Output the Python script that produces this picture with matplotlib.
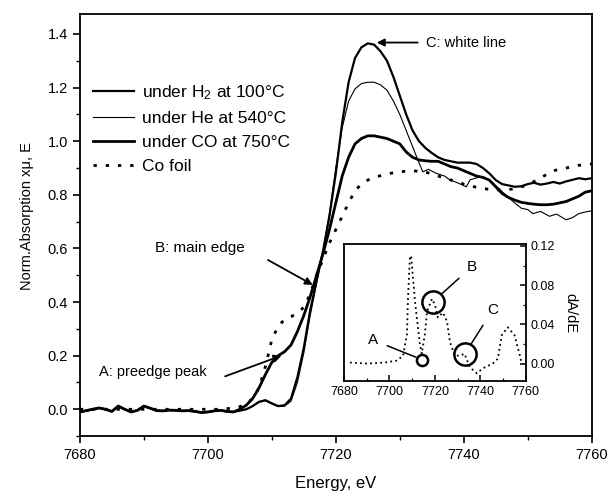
import matplotlib
matplotlib.use('Agg')
import matplotlib.pyplot as plt
from matplotlib.ticker import MultipleLocator
import numpy as np

plt.rcParams['font.family'] = ['Liberation Sans', 'DejaVu Sans']
plt.rcParams['mathtext.fontset'] = 'custom'
plt.rcParams['mathtext.rm'] = 'Liberation Sans'
plt.rcParams['mathtext.it'] = 'Liberation Sans:italic'

# pre-edge region shared by the three samples
e_pre = [7680, 7681, 7682, 7683, 7684, 7685, 7686, 7687, 7688, 7689, 7690, 7691,
         7692, 7693, 7694, 7695, 7696, 7697, 7698, 7699, 7700, 7701, 7702, 7703, 7704]
mu_pre = [-0.01, -0.005, 0.0, 0.005, 0.0, -0.008, 0.012, 0.0, -0.01, -0.004, 0.012, 0.004,
          -0.005, -0.006, -0.003, -0.004, -0.006, -0.005, -0.008, -0.012, -0.01, -0.006,
          -0.004, -0.008, -0.01]

# under H2 at 100 C (highest white line)
e_h2 = [7705, 7706, 7707, 7708, 7709, 7710, 7711, 7712, 7713, 7714, 7715, 7716, 7717,
        7718, 7719, 7720, 7721, 7722, 7723, 7724, 7725, 7726, 7727, 7728, 7729, 7730,
        7731, 7732, 7733, 7734, 7735, 7736, 7737, 7738, 7739, 7740, 7741, 7742, 7743,
        7744, 7745, 7746, 7747, 7748, 7749, 7750, 7751, 7752, 7753, 7754, 7755, 7756,
        7757, 7758, 7759, 7760]
mu_h2 = [-0.005, 0.0, 0.012, 0.028, 0.034, 0.022, 0.012, 0.015, 0.04, 0.12, 0.23, 0.37,
         0.48, 0.59, 0.72, 0.88, 1.07, 1.22, 1.31, 1.35, 1.365, 1.36, 1.335, 1.30, 1.24,
         1.17, 1.10, 1.04, 1.0, 0.975, 0.956, 0.94, 0.93, 0.925, 0.92, 0.92, 0.92, 0.915,
         0.90, 0.88, 0.855, 0.84, 0.835, 0.83, 0.832, 0.84, 0.845, 0.838, 0.842, 0.848,
         0.842, 0.85, 0.856, 0.862, 0.858, 0.862]

# under He at 540 C (thin line)
e_he = [7705, 7706, 7707, 7708, 7709, 7710, 7711, 7712, 7713, 7714, 7715, 7716, 7717,
        7718, 7719, 7720, 7721, 7722, 7723, 7724, 7725, 7726, 7727, 7728, 7729, 7730,
        7731, 7732, 7733, 7733.6, 7734.5, 7735.7, 7737, 7737.8, 7739, 7740.4, 7741,
        7742.5, 7744, 7745.6, 7747, 7747.7, 7749, 7750, 7750.8, 7752, 7753.4, 7754.5,
        7756, 7757, 7758, 7759.2, 7760]
mu_he = [-0.005, 0.0, 0.012, 0.026, 0.032, 0.02, 0.01, 0.012, 0.03, 0.10, 0.21, 0.35,
         0.47, 0.59, 0.73, 0.90, 1.05, 1.15, 1.195, 1.215, 1.22, 1.22, 1.21, 1.19, 1.15,
         1.10, 1.04, 0.98, 0.92, 0.886, 0.895, 0.88, 0.87, 0.856, 0.845, 0.83, 0.856,
         0.867, 0.856, 0.82, 0.79, 0.775, 0.75, 0.745, 0.73, 0.738, 0.72, 0.728, 0.707,
         0.715, 0.73, 0.737, 0.74]

# under CO at 750 C (pre-edge shoulder)
e_co = [7705, 7706, 7707, 7708, 7709, 7710, 7711, 7712, 7713, 7714, 7715, 7716, 7717,
        7718, 7719, 7720, 7721, 7722, 7723, 7724, 7725, 7726, 7727, 7728, 7729, 7730,
        7731, 7732, 7733, 7734, 7735, 7736, 7737, 7738, 7739, 7740, 7741, 7742, 7743,
        7744, 7745, 7746, 7747, 7748, 7749, 7750, 7751, 7752, 7753, 7754, 7755, 7756,
        7757, 7758, 7759, 7760]
mu_co = [0.0, 0.015, 0.04, 0.08, 0.13, 0.175, 0.20, 0.215, 0.24, 0.29, 0.35, 0.42, 0.50,
         0.58, 0.67, 0.77, 0.87, 0.94, 0.99, 1.01, 1.02, 1.02, 1.015, 1.01, 1.0, 0.99,
         0.96, 0.94, 0.93, 0.927, 0.925, 0.925, 0.915, 0.905, 0.90, 0.89, 0.88, 0.87,
         0.865, 0.855, 0.83, 0.805, 0.79, 0.78, 0.772, 0.768, 0.765, 0.763, 0.763, 0.765,
         0.77, 0.775, 0.785, 0.795, 0.81, 0.815]

# Co foil reference
e_foil = [7680, 7684, 7688, 7692, 7696, 7700, 7702, 7704, 7705, 7706, 7707, 7708, 7709,
          7710, 7711, 7712, 7713, 7714, 7715, 7716, 7717, 7718, 7719, 7720, 7721, 7722,
          7723, 7724, 7725, 7726, 7728, 7730, 7732, 7734, 7736, 7738, 7740, 7742, 7744,
          7746, 7748, 7750, 7752, 7754, 7756, 7758, 7760]
mu_foil = [0.0, 0.0, 0.0, 0.0, 0.0, 0.0, 0.0, 0.005, 0.01, 0.02, 0.04, 0.08, 0.16, 0.26,
           0.31, 0.335, 0.345, 0.36, 0.38, 0.43, 0.50, 0.56, 0.62, 0.67, 0.72, 0.77, 0.815,
           0.84, 0.855, 0.865, 0.878, 0.886, 0.89, 0.885, 0.87, 0.855, 0.84, 0.828, 0.82,
           0.818, 0.822, 0.837, 0.863, 0.89, 0.90, 0.91, 0.915]

# inset: derivative of the Co foil spectrum
e_der = [7682.6, 7690, 7698, 7703.3, 7706, 7707.7, 7708.1, 7709, 7709.6, 7711.2, 7713.4,
         7714.2, 7715.6, 7716.5, 7718.7, 7720, 7721.3, 7723.5, 7725.3, 7726.6, 7728.8,
         7731, 7733, 7735.4, 7738.5, 7741, 7745.5, 7747.7, 7749.4, 7752.1, 7755, 7757.4,
         7758.2]
der = [0.001, 0.0, 0.001, 0.003, 0.008, 0.03, 0.064, 0.11, 0.108, 0.064, 0.019, 0.01,
       0.03, 0.053, 0.066, 0.06, 0.047, 0.052, 0.043, 0.022, 0.008, 0.008, 0.01, -0.004,
       -0.01, -0.005, 0.0, 0.005, 0.029, 0.037, 0.029, 0.008, 0.0]

# highlighted features in the inset
feat_names = ['A', 'B', 'C']
feat_e = [7714.3, 7719.1, 7733.2]
feat_d = [0.004, 0.063, 0.010]
feat_size = [8, 16, 16]
feat_label_e = [7692.7, 7736.3, 7745.5]
feat_label_d = [0.024, 0.099, 0.055]

e_full_h2 = e_pre + e_h2
e_full_he = e_pre + e_he
e_full_co = e_pre + e_co

fig = plt.figure(figsize=(6.1, 4.95), dpi=100)
ax = fig.add_axes([0.131, 0.119, 0.839, 0.853])

ax.plot(e_full_h2, mu_pre + mu_h2, color='black', lw=1.6, label='under H$_2$ at 100°C')
ax.plot(e_full_he, mu_pre + mu_he, color='black', lw=0.8, label='under He at 540°C')
ax.plot(e_full_co, mu_pre + mu_co, color='black', lw=2.0, label='under CO at 750°C')
ax.plot(e_foil, mu_foil, color='black', lw=2.0, linestyle=(0, (1.2, 3.2)), label='Co foil')

ax.set_xlim(7680, 7760)
ax.set_ylim(-0.1, 1.475)
ax.xaxis.set_major_locator(MultipleLocator(20))
ax.xaxis.set_minor_locator(MultipleLocator(10))
ax.yaxis.set_major_locator(MultipleLocator(0.2))
ax.yaxis.set_minor_locator(MultipleLocator(0.1))
ax.tick_params(which='major', direction='out', length=5, width=1.2, labelsize=10.5)
ax.tick_params(which='minor', direction='out', length=3, width=1.0)
ax.set_yticks(np.arange(0, 1.41, 0.2))
ax.set_yticklabels(['%.1f' % v for v in np.arange(0, 1.41, 0.2)])
for s in ax.spines.values():
    s.set_linewidth(1.3)
ax.set_xlabel('Energy, eV', fontsize=12, labelpad=10)
ax.set_ylabel('Norm.Absorption xμ, E', fontsize=10.5)
ax.yaxis.set_label_coords(-0.09, 0.52)

ax.legend(loc='upper left', bbox_to_anchor=(0.025, 0.835), frameon=False, fontsize=12.5,
          handlelength=2.4, handletextpad=0.45, labelspacing=0.5, borderaxespad=0,
          borderpad=0)

arrow = dict(arrowstyle='-|>', lw=1.3, color='black', mutation_scale=11, shrinkA=0, shrinkB=0)
ax.annotate('', xy=(7726.4, 1.368), xytext=(7732.8, 1.368), arrowprops=arrow)
ax.text(7734.1, 1.365, 'C: white line', fontsize=10.5, va='center', ha='left')
ax.annotate('', xy=(7716.4, 0.464), xytext=(7709.4, 0.557), arrowprops=arrow)
ax.text(7698.8, 0.60, 'B: main edge', fontsize=11, va='center', ha='center')
ax.annotate('', xy=(7711.5, 0.20), xytext=(7702.7, 0.123), arrowprops=arrow)
ax.text(7691.4, 0.138, 'A: preedge peak', fontsize=10.5, va='center', ha='center')

# inset
axi = fig.add_axes([0.564, 0.230, 0.298, 0.277])
axi.plot(e_der, der, color='black', lw=1.3, linestyle=(0, (1, 1.8)))
axi.set_xlim(7680, 7760)
axi.set_ylim(-0.018, 0.122)
axi.xaxis.set_major_locator(MultipleLocator(20))
axi.xaxis.set_minor_locator(MultipleLocator(10))
axi.yaxis.set_major_locator(MultipleLocator(0.04))
axi.yaxis.set_minor_locator(MultipleLocator(0.02))
axi.yaxis.tick_right()
axi.yaxis.set_label_position('right')
axi.tick_params(which='major', direction='in', length=4, width=1.1, labelsize=9,
                right=True, left=False, top=False)
axi.tick_params(which='minor', direction='in', length=2, width=0.9,
                right=True, left=False, top=False)
axi.set_yticks([0.0, 0.04, 0.08, 0.12])
axi.set_yticklabels(['0.00', '0.04', '0.08', '0.12'])
axi.set_ylabel('dA/dE', fontsize=10.5, rotation=270, labelpad=16)
for s in axi.spines.values():
    s.set_linewidth(1.3)

for name, fe, fd, ms, le, ld in zip(feat_names, feat_e, feat_d, feat_size,
                                    feat_label_e, feat_label_d):
    axi.plot([fe], [fd], marker='o', ms=ms, mfc='none', mec='black', mew=1.8)
    axi.annotate(name, xy=(fe, fd), xytext=(le, ld), fontsize=11, ha='center', va='center',
                 arrowprops=dict(arrowstyle='-', lw=1.1, color='black',
                                 shrinkA=5, shrinkB=ms / 2 + 0.5))

fig.savefig('out.png', dpi=100)
